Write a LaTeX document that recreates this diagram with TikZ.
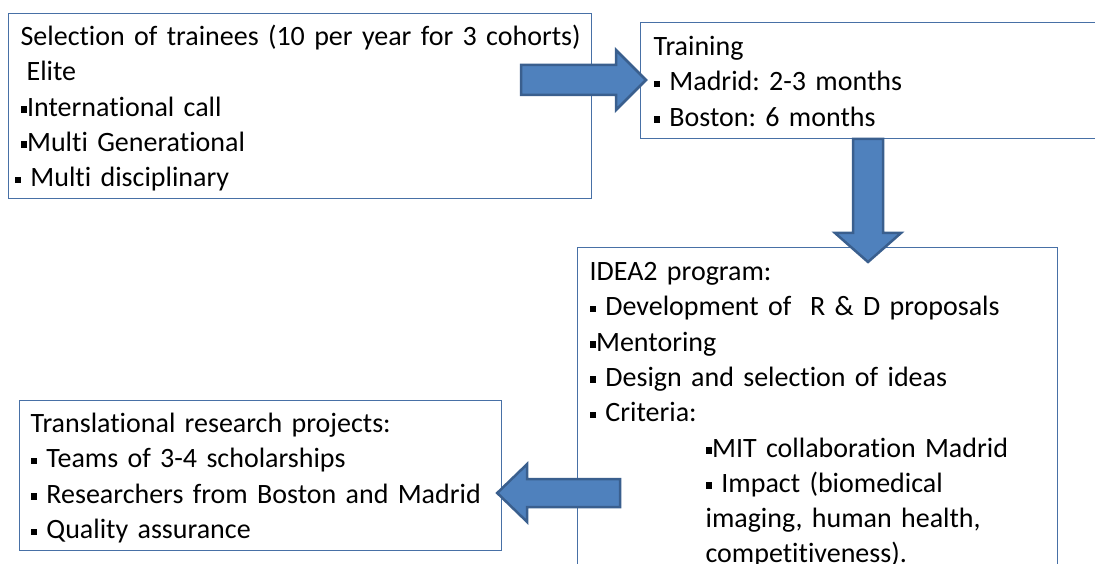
\documentclass[tikz,border=0pt]{standalone}
\usepackage{fontspec}
\setmainfont{Carlito}[Ligatures=NoCommon]

\definecolor{boxline}{HTML}{4770A6}
\definecolor{arrowfill}{HTML}{4F81BD}
\definecolor{arrowline}{HTML}{3A5F8E}

% small square bullet
\newcommand{\sqb}{\rule[3.5pt]{6.5pt}{6.5pt}}
\newcommand{\subind}{\hspace*{116pt}}

\tikzset{
  box/.style={draw=boxline, line width=1.2pt, fill=white, anchor=north west,
    inner ysep=0pt, align=left, font=\fontsize{28}{35.3}\selectfont\frenchspacing},
  fatarrow/.style={draw=arrowline, fill=arrowfill, line width=2.5pt, line join=miter}
}

\begin{document}
\begin{tikzpicture}[x=1pt,y=-1pt]
\useasboundingbox (0,0) rectangle (1095,564);

\node[box, inner xsep=6pt, text width=571pt, text height=32pt, text depth=153pt] (sel) at (8,13)
  {\leftskip=6pt
   Selection of trainees (10 per year for 3 cohorts)\\
   \hspace*{6pt}Elite\\
   \sqb International call\\
   \sqb Multi Generational\\
   \sqb\ Multi disciplinary};

\node[box, inner xsep=13pt, text width=444pt, text height=33pt, text depth=83pt] (train) at (640,22)
  {Training\\
   \sqb\ Madrid: 2-3 months\\
   \sqb\ Boston: 6 months};

\node[box, inner xsep=12pt, text width=456pt, text height=33pt, text depth=307pt] (idea) at (577,247)
  {IDEA2 program:\\
   \sqb\ Development of \ R \& D proposals\\
   \sqb Mentoring\\
   \sqb\ Design and selection of ideas\\
   \sqb\ Criteria:\\
   \subind\sqb MIT collaboration Madrid\\
   \subind\sqb\ Impact (biomedical\\
   \subind imaging, human health,\\
   \subind competitiveness).};

\node[box, inner xsep=11pt, text width=460pt, text height=32pt, text depth=118pt] (proj) at (19,400)
  {Translational research projects:\\
   \sqb\ Teams of 3-4 scholarships\\
   \sqb\ Researchers from Boston and Madrid\\
   \sqb\ Quality assurance};

% block arrows, drawn from their tips
\coordinate (tipA) at ([shift={(6,58)}]train.north west);
\coordinate (tipB) at ([shift={(291,15)}]idea.north west);
\coordinate (tipC) at ([shift={(-5,93)}]proj.north east);

\draw[fatarrow] (tipA) -- ++(-30,-30) -- ++(0,15) -- ++(-95,0) -- ++(0,30)
  -- ++(95,0) -- ++(0,15) -- cycle;
\draw[fatarrow] (tipB) -- ++(-33,-29) -- ++(18,0) -- ++(0,-94) -- ++(30,0)
  -- ++(0,94) -- ++(18,0) -- cycle;
\draw[fatarrow] (tipC) -- ++(30,-29) -- ++(0,15) -- ++(93,0) -- ++(0,28)
  -- ++(-93,0) -- ++(0,15) -- cycle;
\end{tikzpicture}
\end{document}
